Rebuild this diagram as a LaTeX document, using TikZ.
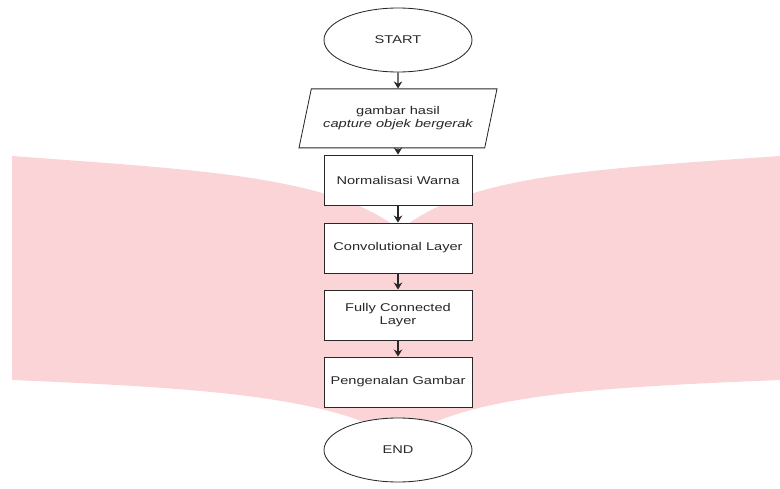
\documentclass[tikz,border=0pt]{standalone}
\usepackage{fontspec}
\setmainfont{Liberation Sans}
\usepackage{graphicx}
\usetikzlibrary{shapes.geometric,arrows.meta}
\definecolor{bookpink}{RGB}{250,212,214}
\definecolor{inkgray}{RGB}{40,40,40}
\newcommand{\wtxt}[1]{\scalebox{1.3}[1]{#1}}

\begin{document}
\begin{tikzpicture}[line width=0.6pt,>={Stealth[length=5pt,width=6pt]},
  every node/.style={text=inkgray,font=\fontsize{8}{9}\selectfont},
  terminal/.style={draw=inkgray,fill=white,ellipse,minimum width=3.7cm,minimum height=1.6cm,inner sep=0pt},
  process/.style={draw=inkgray,fill=white,rectangle,minimum width=3.7cm,minimum height=1.25cm,align=center,inner sep=0pt},
  inout/.style={draw=inkgray,fill=white,trapezium,trapezium left angle=62,trapezium right angle=118,
    trapezium stretches body,minimum width=4.95cm,minimum height=1.475cm,align=center,inner sep=0pt},
  flow/.style={->,draw=inkgray,line width=0.9pt}]
\useasboundingbox (0,0) rectangle (19.5,12.2);

% pink open-book shape behind the chart
\fill[bookpink] (0.3,8.3) .. controls (5,7.95) and (8.3,7.8) .. (10,6.45)
  .. controls (11.7,7.8) and (14.5,7.95) .. (19.5,8.3) -- (19.5,2.7)
  .. controls (14.5,2.5) and (11.7,2.3) .. (10,1.2)
  .. controls (8.3,2.3) and (5,2.5) .. (0.3,2.7) -- cycle;

% flowchart
\node[terminal] (start) at (9.95,11.2) {\wtxt{START}};
\node[inout] (input) at (9.95,9.24) {\wtxt{gambar hasil}\\\wtxt{\itshape capture objek bergerak}};
\node[process] (norm) at (9.95,7.7) {\wtxt{Normalisasi Warna}};
\node[process] (conv) at (9.95,6.0) {\wtxt{Convolutional Layer}};
\node[process] (fc) at (9.95,4.325) {\wtxt{Fully Connected}\\\wtxt{Layer}};
\node[process] (recog) at (9.95,2.65) {\wtxt{Pengenalan Gambar}};
\node[terminal] (end) at (9.95,0.95) {\wtxt{END}};

\draw[flow] (start) -- (input);
\draw[flow] (input) -- (norm);
\draw[flow] (norm) -- (conv);
\draw[flow] (conv) -- (fc);
\draw[flow] (fc) -- (recog);
\end{tikzpicture}
\end{document}
